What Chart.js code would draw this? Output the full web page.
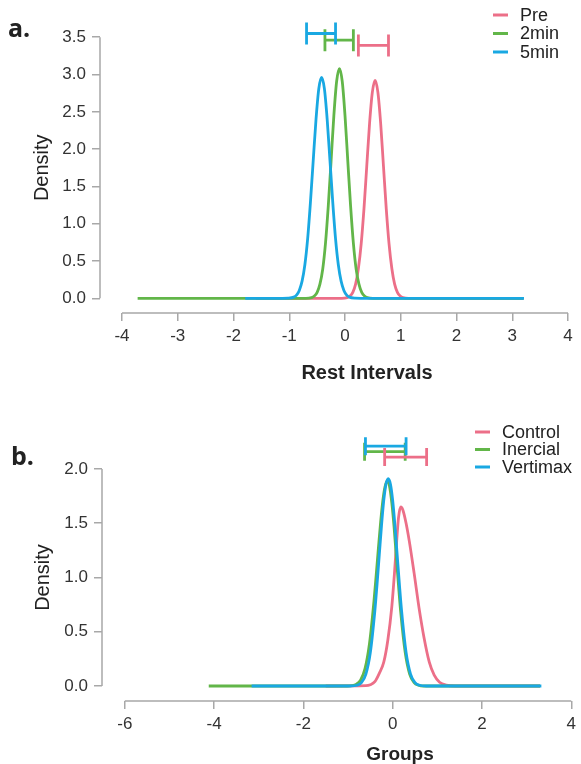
<!DOCTYPE html>
<html>
<head>
<meta charset="utf-8">
<script src="https://cdn.jsdelivr.net/npm/chart.js@4.4.1/dist/chart.umd.min.js"></script>
<style>
html,body{margin:0;padding:0;background:#fff}
#wrap{position:relative;width:581px;height:764px}
canvas{position:absolute;left:0}
</style>
</head>
<body>
<div id="wrap">
<canvas id="chartA" width="581" height="382" style="top:0"></canvas>
<canvas id="chartB" width="581" height="382" style="top:382px"></canvas>
</div>
<script>
// panel a - rest intervals
const namesA = ["Pre", "2min", "5min"]
const preX = [-1.6, -0.06, 0.04, 0.09, 0.14, 0.19, 0.24, 0.29, 0.34, 0.39, 0.44, 0.49, 0.54, 0.59, 0.64, 0.69, 0.74, 0.79, 0.84, 0.89, 0.94, 0.99, 1.04, 1.14, 3.2]
const preY = [0, 0, 0.01, 0.03, 0.08, 0.19, 0.40, 0.73, 1.20, 1.77, 2.34, 2.76, 2.92, 2.76, 2.34, 1.77, 1.20, 0.73, 0.40, 0.19, 0.08, 0.03, 0.01, 0, 0]
const min2X = [-3.72, -0.70, -0.60, -0.55, -0.50, -0.45, -0.40, -0.35, -0.30, -0.25, -0.20, -0.15, -0.10, -0.05, 0.00, 0.05, 0.10, 0.15, 0.20, 0.25, 0.30, 0.35, 0.40, 0.50, 3.2]
const min2Y = [0, 0, 0.01, 0.03, 0.08, 0.19, 0.39, 0.74, 1.24, 1.84, 2.45, 2.91, 3.08, 2.91, 2.45, 1.84, 1.24, 0.74, 0.39, 0.19, 0.08, 0.03, 0.01, 0, 0]
const min5X = [-1.79, -1.12, -1.02, -0.92, -0.87, -0.82, -0.77, -0.72, -0.67, -0.62, -0.57, -0.52, -0.47, -0.42, -0.37, -0.32, -0.27, -0.22, -0.17, -0.12, -0.07, -0.02, 0.03, 0.08, 0.18, 0.28, 3.21]
const min5Y = [0, 0, 0.002, 0.016, 0.043, 0.106, 0.23, 0.45, 0.80, 1.29, 1.85, 2.40, 2.81, 2.96, 2.81, 2.40, 1.85, 1.29, 0.80, 0.45, 0.23, 0.106, 0.043, 0.016, 0.002, 0, 0]
const errLowA = [0.24, -0.36, -0.69]
const errHighA = [0.78, 0.15, -0.17]
const errYA = [3.39, 3.46, 3.55]
const xTicksA = [-4, -3, -2, -1, 0, 1, 2, 3, 4]
const yTicksA = [0, 0.5, 1, 1.5, 2, 2.5, 3, 3.5]

// panel b - groups
const namesB = ["Control", "Inercial", "Vertimax"]
const ctrlX = [-1.5, -0.6, -0.5, -0.4, -0.3, -0.2, -0.11, -0.02, 0.04, 0.09, 0.13, 0.18, 0.23, 0.30, 0.37, 0.48, 0.59, 0.70, 0.82, 0.93, 1.05, 1.2, 1.4, 3.3]
const ctrlY = [0, 0.003, 0.012, 0.04, 0.117, 0.22, 0.42, 0.73, 1.04, 1.34, 1.55, 1.65, 1.62, 1.50, 1.34, 1.04, 0.72, 0.45, 0.22, 0.10, 0.035, 0.008, 0, 0]
const inerX = [-4.12, -1.02, -0.92, -0.82, -0.72, -0.62, -0.52, -0.42, -0.37, -0.32, -0.27, -0.22, -0.17, -0.12, -0.07, -0.02, 0.03, 0.08, 0.13, 0.18, 0.28, 0.38, 0.48, 0.58, 0.68, 3.3]
const inerY = [0, 0, 0.003, 0.015, 0.053, 0.16, 0.39, 0.78, 1.02, 1.27, 1.51, 1.71, 1.84, 1.89, 1.84, 1.69, 1.47, 1.20, 0.93, 0.68, 0.31, 0.11, 0.032, 0.007, 0, 0]
const vertX = [-3.16, -0.95, -0.80, -0.70, -0.60, -0.50, -0.40, -0.35, -0.30, -0.25, -0.20, -0.15, -0.10, -0.05, 0.00, 0.05, 0.10, 0.15, 0.20, 0.30, 0.40, 0.50, 0.60, 0.75, 3.33]
const vertY = [0, 0, 0.007, 0.032, 0.11, 0.31, 0.69, 0.94, 1.21, 1.48, 1.71, 1.86, 1.91, 1.86, 1.71, 1.48, 1.21, 0.94, 0.69, 0.31, 0.11, 0.032, 0.007, 0, 0]
const errLowB = [-0.18, -0.63, -0.61]
const errHighB = [0.76, 0.28, 0.30]
const errYB = [2.11, 2.16, 2.21]
const xTicksB = [-6, -4, -2, 0, 2, 4]
const yTicksB = [0, 0.5, 1, 1.5, 2]

const colors = ["#EC6F88", "#62B649", "#19A8E2"]
const FONT = "'Liberation Sans', Arial, sans-serif"
const AXIS = "#a8a8a8"

function pts(xs, ys) {
  return xs.map((x, i) => ({ x: x, y: ys[i] }))
}

// R-like decorations: detached axis lines, error bars, legend, titles
const rStyle = {
  id: "rstyle",
  afterDatasetsDraw(chart, args, o) {
    const ctx = chart.ctx
    const xs = chart.scales.x, ys = chart.scales.y
    ctx.save()
    ctx.lineWidth = 2.8
    for (const i of [1, 2, 0]) {
      const y = ys.getPixelForValue(o.errY[i])
      const x1 = xs.getPixelForValue(o.errLow[i])
      const x2 = xs.getPixelForValue(o.errHigh[i])
      ctx.strokeStyle = colors[i]
      ctx.beginPath()
      ctx.moveTo(x1, y); ctx.lineTo(x2, y)
      ctx.moveTo(x1, y - o.cap); ctx.lineTo(x1, y + o.cap)
      ctx.moveTo(x2, y - o.cap); ctx.lineTo(x2, y + o.cap)
      ctx.stroke()
    }
    ctx.restore()
  },
  afterDraw(chart, args, o) {
    const ctx = chart.ctx
    const xs = chart.scales.x, ys = chart.scales.y
    const area = chart.chartArea
    ctx.save()
    // axis lines only between first and last tick
    ctx.strokeStyle = AXIS
    ctx.lineWidth = 1.5
    ctx.beginPath()
    const xa = xs.getPixelForValue(o.xTicks[0]), xb = xs.getPixelForValue(o.xTicks[o.xTicks.length - 1])
    ctx.moveTo(xa, area.bottom); ctx.lineTo(xb, area.bottom)
    const ya = ys.getPixelForValue(o.yTicks[0]), yb = ys.getPixelForValue(o.yTicks[o.yTicks.length - 1])
    ctx.moveTo(area.left, ya); ctx.lineTo(area.left, yb)
    ctx.stroke()

    // y title
    ctx.fillStyle = "#222"
    ctx.font = "20px " + FONT
    ctx.textAlign = "center"
    ctx.textBaseline = "middle"
    ctx.save()
    ctx.translate(o.yTitleX, (ya + yb) / 2)
    ctx.rotate(-Math.PI / 2)
    ctx.fillText("Density", 0, 0)
    ctx.restore()

    // x title
    ctx.font = "bold " + o.xTitleSize + "px " + FONT
    ctx.fillText(o.xTitle, o.xTitleX, o.xTitleY)

    // panel letter
    ctx.font = "bold 25px 'Open Sans', " + FONT
    ctx.textAlign = "left"
    ctx.textBaseline = "alphabetic"
    ctx.fillText(o.letter, o.letterX, o.letterY)

    // legend
    ctx.font = "18px " + FONT
    ctx.textBaseline = "middle"
    chart.data.datasets.forEach((ds, i) => {
      const y = o.legY + i * o.legStep
      ctx.strokeStyle = ds.borderColor
      ctx.lineWidth = 3
      ctx.beginPath()
      ctx.moveTo(o.legX, y); ctx.lineTo(o.legX + 15, y)
      ctx.stroke()
      ctx.fillStyle = "#222"
      ctx.fillText(ds.label, o.legX + 27, y + 1)
    })
    ctx.restore()
  }
}

function makeChart(id, cfg) {
  const datasets = cfg.names.map((n, i) => ({
    label: n,
    data: pts(cfg.X[i], cfg.Y[i]),
    borderColor: colors[i],
    backgroundColor: colors[i],
    borderWidth: 2.8,
    pointRadius: 0,
    showLine: true,
    fill: false,
    cubicInterpolationMode: "monotone",
    order: 3 - i,
    clip: false
  }))
  return new Chart(document.getElementById(id).getContext("2d"), {
    type: "scatter",
    data: { datasets: datasets },
    plugins: [rStyle],
    options: {
      responsive: false,
      animation: false,
      events: [],
      layout: { padding: { top: cfg.padTop, right: cfg.padRight, left: 0, bottom: 0 } },
      plugins: {
        legend: { display: false },
        tooltip: { enabled: false },
        rstyle: cfg.deco
      },
      scales: {
        x: {
          type: "linear",
          min: cfg.xMin, max: cfg.xMax,
          afterBuildTicks: a => { a.ticks = cfg.xTicks.map(v => ({ value: v })) },
          afterFit: s => { s.height = cfg.xHeight },
          ticks: { color: "#333", font: { family: FONT, size: 17 }, padding: 5, maxRotation: 0, autoSkip: false, callback: v => String(v) },
          grid: { display: true, drawOnChartArea: false, drawTicks: true, tickLength: 8, color: AXIS, lineWidth: 1.5 },
          border: { display: false }
        },
        y: {
          type: "linear",
          min: cfg.yMin, max: cfg.yMax,
          afterBuildTicks: a => { a.ticks = cfg.yTicks.map(v => ({ value: v })) },
          afterFit: s => { s.width = cfg.yWidth },
          ticks: { color: "#333", font: { family: FONT, size: 17 }, padding: 6, autoSkip: false, callback: v => v.toFixed(1) },
          grid: { display: true, drawOnChartArea: false, drawTicks: true, tickLength: 8, color: AXIS, lineWidth: 1.5 },
          border: { display: false }
        }
      }
    }
  })
}

makeChart("chartA", {
  names: namesA,
  X: [preX, min2X, min5X],
  Y: [preY, min2Y, min5Y],
  xMin: -4.395, xMax: 4, yMin: -0.197, yMax: 3.704,
  xTicks: xTicksA, yTicks: yTicksA,
  padTop: 22, padRight: 13, xHeight: 69, yWidth: 100,
  deco: {
    errLow: errLowA, errHigh: errHighA, errY: errYA, cap: 11,
    xTicks: xTicksA, yTicks: yTicksA,
    yTitleX: 42, xTitle: "Rest Intervals", xTitleSize: 20, xTitleX: 367, xTitleY: 373,
    letter: "a.", letterX: 8, letterY: 37,
    legX: 493, legY: 15, legStep: 18.5
  }
})

makeChart("chartB", {
  names: namesB,
  X: [ctrlX, inerX, vertX],
  Y: [ctrlY, inerY, vertY],
  xMin: -6.511, xMax: 4, yMin: -0.138, yMax: 2.304,
  xTicks: xTicksB, yTicks: yTicksB,
  padTop: 54, padRight: 6, xHeight: 63, yWidth: 102,
  deco: {
    errLow: errLowB, errHigh: errHighB, errY: errYB, cap: 9,
    xTicks: xTicksB, yTicks: yTicksB,
    yTitleX: 43, xTitle: "Groups", xTitleSize: 19, xTitleX: 400, xTitleY: 373,
    letter: "b.", letterX: 11, letterY: 83,
    legX: 475, legY: 50, legStep: 17.5
  }
})
</script>
</body>
</html>
